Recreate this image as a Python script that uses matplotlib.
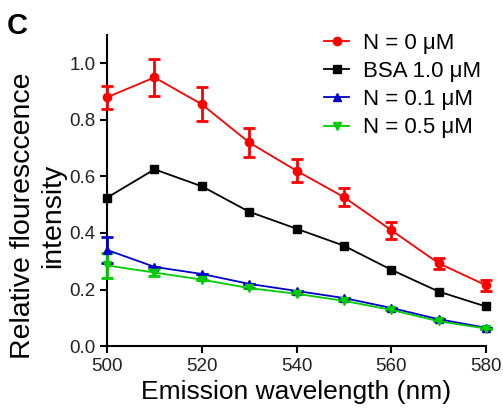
import numpy as np
import matplotlib
matplotlib.use("Agg")
import matplotlib.pyplot as plt

plt.rcParams['font.family'] = ['Liberation Sans', 'DejaVu Sans']

wavelength = [500, 510, 520, 530, 540, 550, 560, 570, 580]

n0 = [0.88, 0.95, 0.855, 0.72, 0.62, 0.527, 0.41, 0.293, 0.215]
n0_err = [0.04, 0.065, 0.06, 0.05, 0.04, 0.032, 0.03, 0.02, 0.02]
bsa = [0.525, 0.625, 0.565, 0.475, 0.415, 0.355, 0.27, 0.193, 0.14]
n01 = [0.34, 0.28, 0.255, 0.22, 0.195, 0.17, 0.135, 0.095, 0.065]
n01_err = [0.045, 0.0, 0.0, 0.0, 0.0, 0.0, 0.0, 0.0, 0.0]
n05 = [0.285, 0.26, 0.235, 0.205, 0.185, 0.16, 0.128, 0.088, 0.062]
n05_err = [0.045, 0.012, 0.0, 0.0, 0.0, 0.0, 0.0, 0.0, 0.0]

fig = plt.figure(figsize=(5.03, 4.12), dpi=100)
ax = fig.add_axes([0.213, 0.160, 0.753, 0.755])

ebkw = dict(ms=6, lw=1.3, capsize=4, elinewidth=2, capthick=2, clip_on=False,
            zorder=3)
e0 = ax.errorbar(wavelength, n0, yerr=n0_err, color='#ff0000', marker='o', **ebkw)
lb, = ax.plot(wavelength, bsa, color='black', marker='s', ms=6, lw=1.3,
              clip_on=False, zorder=3)
e1 = ax.errorbar(wavelength, n01, yerr=n01_err, color='#0000cc', marker='^', **ebkw)
e5 = ax.errorbar(wavelength, n05, yerr=n05_err, color='#00cc00', marker='v', **ebkw)

ax.set_xlim(500, 580)
ax.set_ylim(0, 1.1)
ax.set_xticks([500, 520, 540, 560, 580])
ax.set_yticks([0.0, 0.2, 0.4, 0.6, 0.8, 1.0])
ax.set_yticklabels(['0.0', '0.2', '0.4', '0.6', '0.8', '1.0'])
for s in ['top', 'right']:
    ax.spines[s].set_visible(False)
for s in ['left', 'bottom']:
    ax.spines[s].set_linewidth(1.5)
ax.tick_params(direction='out', length=5, width=1.5, labelsize=13.5,
               labelcolor='#222222')

ax.set_xlabel('Emission wavelength (nm)', fontsize=19, labelpad=4)
ax.set_ylabel('Relative flouresccence\nintensity', fontsize=20.5)
ax.yaxis.set_label_coords(-0.108, 0.42)

handles = [e0.lines[0], lb, e1.lines[0], e5.lines[0]]
labels = ['N = 0 μM', 'BSA 1.0 μM', 'N = 0.1 μM', 'N = 0.5 μM']
ax.legend(handles, labels, loc='upper right', frameon=False, fontsize=16,
          handlelength=1.15, handletextpad=0.6, labelspacing=0.32,
          borderaxespad=0, bbox_to_anchor=(1.01, 1.035))

fig.text(0.014, 0.972, 'C', fontsize=21, fontweight='bold', va='top')

fig.savefig('out.png', dpi=100)
